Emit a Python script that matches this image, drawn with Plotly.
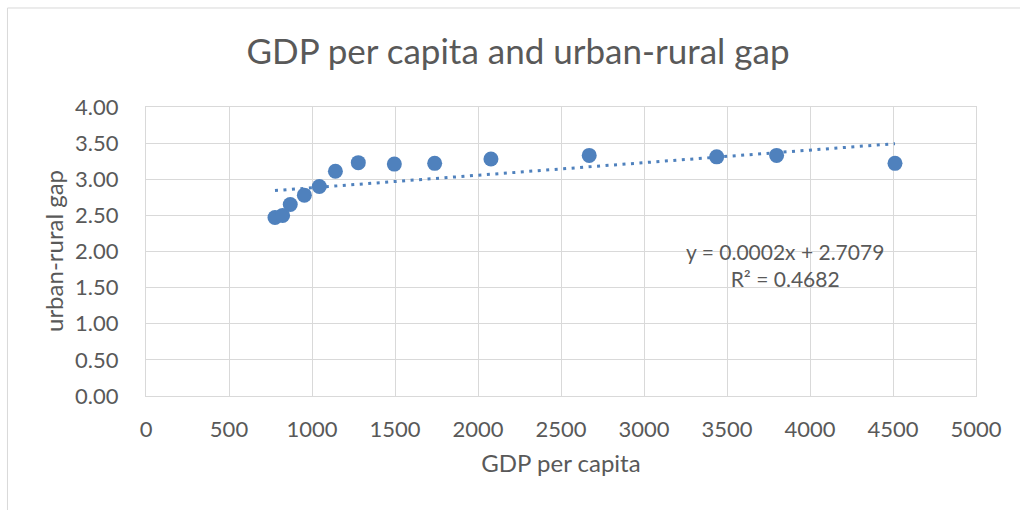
import numpy as np
import plotly.graph_objects as go

# Data
gdp_per_capita = [777, 823, 869, 954, 1044, 1141, 1279, 1496, 1739, 2078, 2670, 3438, 3799, 4512]
urban_rural_gap = [2.47, 2.50, 2.65, 2.78, 2.90, 3.11, 3.23, 3.21, 3.22, 3.28, 3.33, 3.31, 3.33, 3.22]

title_text = "GDP per capita and urban-rural gap"
x_title = "GDP per capita"
y_title = "urban-rural gap"
equation_text = "y = 0.0002x + 2.7079<br>R² = 0.4682"

COLOR = "#4F81BD"
GRID = "#D9D9D9"
TXT = "#595959"
FONT = "Lato"

# Linear trendline (least squares) drawn over the data's x range
coef = np.polyfit(gdp_per_capita, urban_rural_gap, 1)
tx = [min(gdp_per_capita), max(gdp_per_capita)]
ty = [coef[0] * v + coef[1] for v in tx]

fig = go.Figure()
fig.add_trace(go.Scatter(
    x=tx, y=ty, mode="lines",
    line=dict(color=COLOR, width=3, dash="3px,5.5px"),
    hoverinfo="skip", showlegend=False,
))
fig.add_trace(go.Scatter(
    x=gdp_per_capita, y=urban_rural_gap, mode="markers",
    marker=dict(color=COLOR, size=15, line=dict(width=0)),
    showlegend=False,
))

fig.add_annotation(
    x=3849, y=1.82, xref="x", yref="y", text=equation_text,
    showarrow=False, font=dict(family=FONT, size=21, color=TXT),
    align="center", xanchor="center", yanchor="middle",
)

# Y-axis title placed as a rotated annotation
fig.add_annotation(
    x=(53 - 146) / 830, y=(396 - 251) / 289, xref="paper", yref="paper",
    text=y_title, textangle=-90, showarrow=False,
    font=dict(family=FONT, size=24, color=TXT),
    xanchor="center", yanchor="middle",
)

# Chart-area border (extends past right/bottom of the picture)
fig.add_shape(
    type="rect", xref="paper", yref="paper",
    x0=-0.1669, x1=1.3, y0=-0.6, y1=1.3426,
    line=dict(color=GRID, width=1), fillcolor="rgba(0,0,0,0)", layer="below",
)

fig.update_layout(
    width=1020, height=510,
    margin=dict(l=146, r=44, t=107, b=114),
    paper_bgcolor="white", plot_bgcolor="white",
    font=dict(family=FONT, color=TXT),
    title=dict(
        text=title_text, x=518 / 1020, xanchor="center",
        xref="container", yref="container", y=1 - 52 / 510, yanchor="middle",
        font=dict(family=FONT, size=35, color=TXT),
    ),
)
fig.update_xaxes(
    range=[0, 5000], dtick=500, tick0=0,
    showgrid=True, gridcolor=GRID, gridwidth=1.3,
    showline=True, linecolor=GRID, linewidth=1.3, mirror=True,
    zeroline=False, ticks="", ticklabelstandoff=13,
    tickfont=dict(family=FONT, size=22, color=TXT),
    title=dict(text=x_title, font=dict(family=FONT, size=24, color=TXT), standoff=14),
)
fig.update_yaxes(
    range=[0, 4], dtick=0.5, tick0=0, tickformat=".2f",
    showgrid=True, gridcolor=GRID, gridwidth=1.3,
    showline=True, linecolor=GRID, linewidth=1.3, mirror=True,
    zeroline=False, ticks="", ticklabelstandoff=22,
    tickfont=dict(family=FONT, size=22, color=TXT),
)

fig.write_html("out.html")
